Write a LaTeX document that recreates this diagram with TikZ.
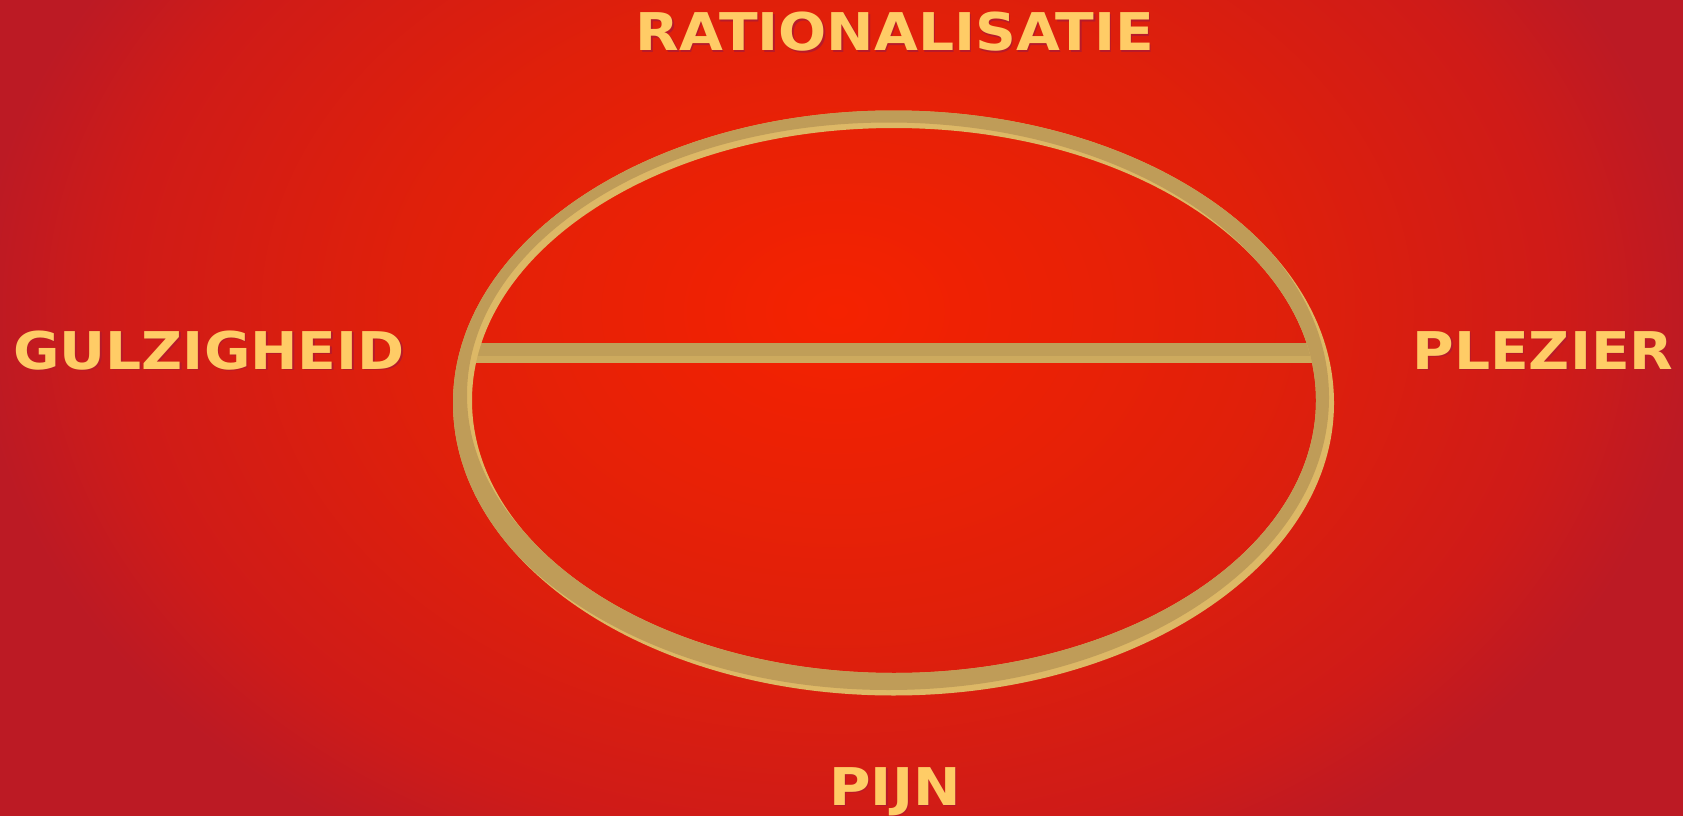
\documentclass[tikz,border=0pt]{standalone}
\usepackage{fontspec}
\setmainfont{DejaVu Sans}
\newfontfamily\lblfont[FakeStretch=1.09]{DejaVu Sans Bold}
\definecolor{bgA}{HTML}{F52200}
\definecolor{bgB}{HTML}{E0200A}
\definecolor{bgC}{HTML}{CF1B18}
\definecolor{bgD}{HTML}{BC1A24}
\definecolor{ringdark}{HTML}{BF9C58}
\definecolor{ringlight}{HTML}{DDB866}
\definecolor{bardark}{HTML}{C09E58}
\definecolor{barlight}{HTML}{CDAA5E}
\definecolor{labelc}{HTML}{FFCC66}
\definecolor{glowc}{HTML}{B81A2A}
\pgfdeclareradialshading{bgshade}{\pgfpointorigin}{color(0bp)=(bgA); color(12.5bp)=(bgB); color(21bp)=(bgC); color(25bp)=(bgD); color(50bp)=(bgD)}
\newcommand\glowtext[1]{\makebox[0pt][l]{\kern1.5pt\raisebox{-1.5pt}{\textcolor{glowc}{#1}}}#1}
\tikzset{
  lbl/.style={text=labelc, font=\lblfont\fontsize{52}{52}\selectfont, inner sep=0pt, anchor=base},
}
\begin{document}
\begin{tikzpicture}[x=1pt,y=-1pt]
\useasboundingbox (0,0) rectangle (1683,816);
% background
\begin{scope}
  \clip (0,0) rectangle (1683,816);
  \shade[shading=bgshade] (-23,-319) rectangle (1697,941);
\end{scope}
% bar
\begin{scope}
  \clip (894,400.5) ellipse [x radius=423pt, y radius=273.5pt];
  \fill[bardark] (460,343) rectangle (1330,363);
  \fill[barlight] (460,356) rectangle (1330,363);
\end{scope}
% ring
\begin{scope}[even odd rule]
  \clip (893.5,403) ellipse [x radius=440.5pt, y radius=292.5pt]
        (894,400.5) ellipse [x radius=422pt, y radius=272.5pt];
  \fill[ringlight] (440,100) rectangle (1350,710);
  \fill[ringdark] (888.5,397.5) ellipse [x radius=440.5pt, y radius=292.5pt]
                  (889,395) ellipse [x radius=422pt, y radius=272.5pt];
\end{scope}
% labels
\node[lbl] (rat) at (895,51) {\glowtext{RATIONALISATIE}};
\node[lbl] (gul) at (209,369) {\glowtext{GULZIGHEID}};
\node[lbl] (ple) at (1543,369) {\glowtext{PLEZIER}};
\node[lbl] (pijn) at (895,805) {\glowtext{PIJN}};
\end{tikzpicture}
\end{document}
